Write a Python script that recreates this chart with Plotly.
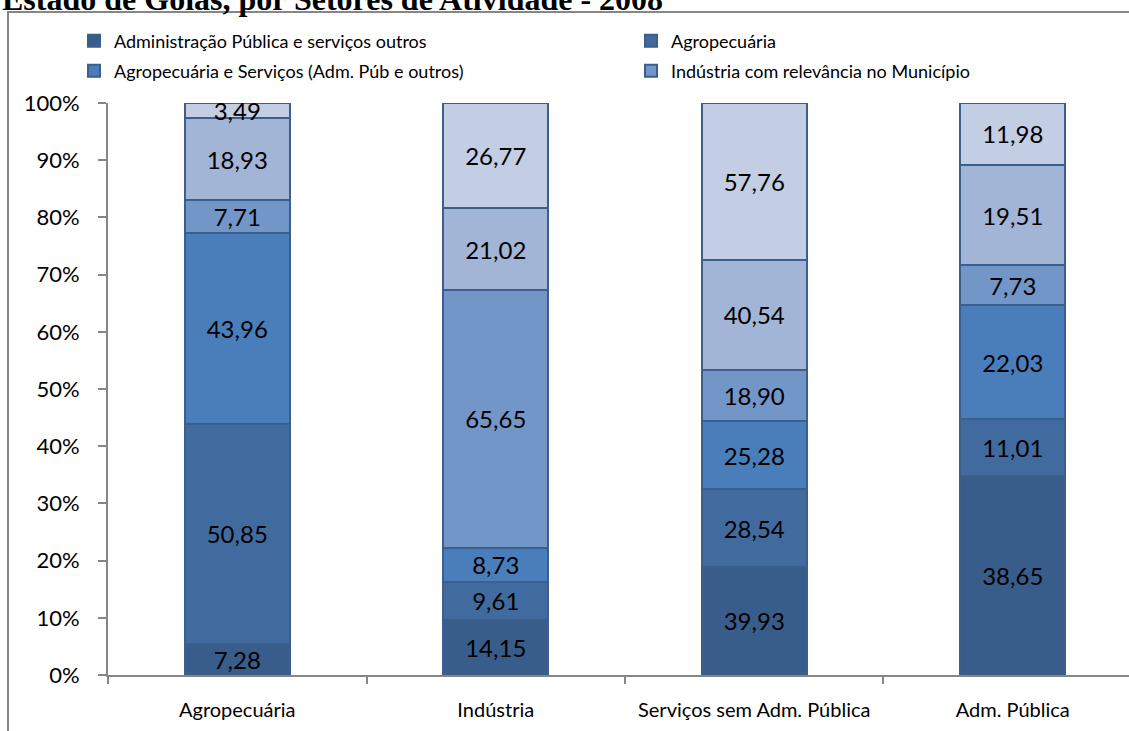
import plotly.graph_objects as go

categories = ["Agropecuária", "Indústria", "Serviços sem Adm. Pública", "Adm. Pública"]

series_names = [
    "Administração Pública e serviços outros",
    "Agropecuária",
    "Agropecuária e Serviços (Adm. Púb e outros)",
    "Indústria com relevância no Município",
    "Indústria e Serviços",
    "Serviços",
]
s1 = [7.28, 14.15, 39.93, 38.65]
s2 = [50.85, 9.61, 28.54, 11.01]
s3 = [43.96, 8.73, 25.28, 22.03]
s4 = [7.71, 65.65, 18.90, 7.73]
s5 = [18.93, 21.02, 40.54, 19.51]
s6 = [3.49, 26.77, 57.76, 11.98]
series_values = [s1, s2, s3, s4, s5, s6]

colors = ["#385D8A", "#416B9E", "#4A7EBB", "#7296C8", "#A3B5D6", "#C3CDE3"]
title_text = "Estado de Goiás, por Setores de Atividade - 2008"

W, H = 1129, 731
L, R, T, B = 108, 0, 103, 56
pw = W - L - R
ph = H - T - B

def px_x(px):
    return (px - L) / pw

def px_y(py):
    return (H - B - py) / ph

fig = go.Figure()
legend_ids = ["legend", "legend2", "legend3", "legend4", None, None]
for i, (name, vals) in enumerate(zip(series_names, series_values)):
    fig.add_trace(go.Bar(
        x=categories,
        y=vals,
        name=name,
        text=[f"{v:.2f}".replace(".", ",") for v in vals],
        textposition="inside",
        insidetextanchor="middle",
        textangle=0,
        textfont=dict(family="Lato", size=24, color="black"),
        marker=dict(color=colors[i], line=dict(color="#3B5F8D", width=2)),
        showlegend=legend_ids[i] is not None,
        legend=legend_ids[i] if legend_ids[i] else "legend",
    ))

def leg(xpx, ypx):
    return dict(
        x=xpx / W, y=1 - ypx / H, xref="container", yref="container",
        xanchor="left", yanchor="middle", orientation="h",
        bgcolor="rgba(0,0,0,0)", font=dict(family="Lato", size=18, color="black"),
        itemclick=False, itemdoubleclick=False,
    )

fig.update_layout(
    width=W, height=H,
    margin=dict(l=L, r=R, t=T, b=B, pad=0),
    paper_bgcolor="white", plot_bgcolor="white",
    barmode="stack", barnorm="percent", bargap=0.595,
    separators=",.",
    uniformtext=dict(minsize=24, mode="show"),
    legend=leg(74, 41),
    legend2=leg(631, 41),
    legend3=leg(74, 71),
    legend4=leg(631, 71),
    xaxis=dict(
        type="category", range=[-0.5, 3.5 - 13 / 258.7],
        showline=True, linecolor="#868686", linewidth=2,
        ticks="outside", tickson="boundaries", ticklen=7, tickcolor="#868686", tickwidth=2,
        tickfont=dict(family="Lato", size=20, color="black"),
        ticklabelstandoff=16, showgrid=False, zeroline=False,
    ),
    yaxis=dict(
        range=[0, 100], dtick=10, ticksuffix="%",
        showline=True, linecolor="#868686", linewidth=2,
        ticks="outside", ticklen=8, tickcolor="#868686", tickwidth=2,
        tickfont=dict(family="Lato", size=22, color="black"),
        ticklabelstandoff=14, showgrid=False, zeroline=False,
    ),
    annotations=[dict(
        text=f"<b>{title_text}</b>", xref="paper", yref="paper",
        x=px_x(0), y=px_y(19), xanchor="left", yanchor="bottom", showarrow=False,
        font=dict(family="Liberation Serif", size=32, color="black"),
    )],
    shapes=[dict(
        type="rect", xref="paper", yref="paper", layer="below",
        x0=px_x(8), x1=px_x(W + 20), y0=px_y(H + 20), y1=px_y(12),
        line=dict(color="#868686", width=2), fillcolor="rgba(0,0,0,0)",
    )],
)

fig.write_html(
    "out.html",
    config={"displayModeBar": False},
    post_script="document.body.style.margin='0px';document.body.style.overflow='hidden';",
)
